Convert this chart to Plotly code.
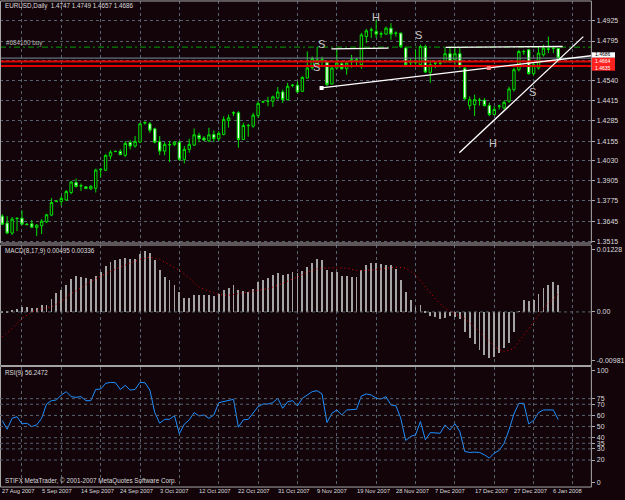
import plotly.graph_objects as go

# ---------------- data ----------------
bar_index = list(range(114))
open_ = [1.3678,1.3634,1.3570,1.3662,1.3665,1.3627,1.3629,1.3605,1.3617,1.3642,
         1.3685,1.3771,1.3772,1.3781,1.3829,1.3892,1.3871,1.3865,1.3852,1.3856,
         1.3974,1.3971,1.4061,1.4090,1.4091,1.4066,1.4148,1.4125,1.4150,1.4272,
         1.4267,1.4235,1.4153,1.4093,1.4132,1.4134,1.4150,1.4040,1.4104,1.4131,
         1.4193,1.4176,1.4159,1.4199,1.4172,1.4199,1.4288,1.4336,1.4337,1.4167,
         1.4255,1.4252,1.4320,1.4406,1.4410,1.4411,1.4432,1.4470,1.4421,1.4512,
         1.4513,1.4474,1.4559,1.4625,1.4650,1.4672,1.4661,1.4521,1.4623,1.4650,
         1.4618,1.4669,1.4672,1.4644,1.4823,1.4863,1.4856,1.4839,1.4839,1.4877,
         1.4844,1.4845,1.4750,1.4656,1.4656,1.4644,1.4760,1.4595,1.4653,1.4653,
         1.4665,1.4714,1.4675,1.4714,1.4622,1.4383,1.4389,1.4418,1.4417,1.4383,
         1.4326,1.4379,1.4368,1.4411,1.4485,1.4612,1.4726,1.4739,1.4587,1.4623,
         1.4707,1.4742,1.4748,1.4747]
high = [1.3691,1.3678,1.3672,1.3668,1.3716,1.3634,1.3653,1.3627,1.3659,1.3693,
        1.3793,1.3777,1.3807,1.3845,1.3903,1.3918,1.3886,1.3869,1.3875,1.3981,
        1.3985,1.4072,1.4098,1.4096,1.4104,1.4157,1.4163,1.4189,1.4273,1.4283,
        1.4278,1.4242,1.4189,1.4150,1.4157,1.4157,1.4157,1.4125,1.4172,1.4237,
        1.4210,1.4189,1.4242,1.4225,1.4220,1.4315,1.4326,1.4347,1.4347,1.4273,
        1.4267,1.4337,1.4411,1.4415,1.4439,1.4447,1.4502,1.4485,1.4528,1.4521,
        1.4538,1.4569,1.4728,1.4696,1.4758,1.4695,1.4669,1.4637,1.4739,1.4663,
        1.4663,1.4707,1.4688,1.4847,1.4872,1.4881,1.4930,1.4856,1.4887,1.4909,
        1.4856,1.4849,1.4760,1.4686,1.4739,1.4771,1.4771,1.4675,1.4664,1.4675,
        1.4750,1.4750,1.4760,1.4750,1.4633,1.4442,1.4453,1.4432,1.4432,1.4401,
        1.4379,1.4389,1.4415,1.4504,1.4625,1.4739,1.4739,1.4745,1.4655,1.4760,
        1.4771,1.4823,1.4760,1.4749]
low = [1.3621,1.3564,1.3558,1.3583,1.3621,1.3621,1.3602,1.3551,1.3564,1.3634,
       1.3678,1.3767,1.3744,1.3775,1.3818,1.3861,1.3839,1.3850,1.3845,1.3829,
       1.3926,1.3966,1.4040,1.4086,1.4068,1.4055,1.4104,1.4115,1.4146,1.4261,
       1.4210,1.4142,1.4068,1.4066,1.4023,1.4125,1.4030,1.4015,1.4083,1.4125,
       1.4150,1.4157,1.4150,1.4150,1.4157,1.4193,1.4242,1.4316,1.4115,1.4163,
       1.4185,1.4242,1.4305,1.4401,1.4379,1.4375,1.4421,1.4400,1.4417,1.4500,
       1.4464,1.4470,1.4555,1.4612,1.4631,1.4637,1.4506,1.4517,1.4618,1.4612,
       1.4580,1.4625,1.4637,1.4618,1.4783,1.4815,1.4815,1.4815,1.4834,1.4803,
       1.4823,1.4750,1.4633,1.4633,1.4644,1.4633,1.4591,1.4529,1.4622,1.4633,
       1.4654,1.4654,1.4644,1.4622,1.4421,1.4358,1.4316,1.4383,1.4377,1.4316,
       1.4322,1.4358,1.4358,1.4402,1.4472,1.4601,1.4707,1.4580,1.4574,1.4612,
       1.4696,1.4718,1.4718,1.4657]
close = [1.3627,1.3570,1.3659,1.3665,1.3627,1.3624,1.3608,1.3621,1.3646,1.3687,
         1.3765,1.3774,1.3791,1.3835,1.3896,1.3867,1.3872,1.3855,1.3869,1.3972,
         1.3977,1.4066,1.4087,1.4091,1.4070,1.4142,1.4125,1.4155,1.4267,1.4275,
         1.4226,1.4150,1.4093,1.4136,1.4134,1.4150,1.4040,1.4104,1.4136,1.4197,
         1.4172,1.4163,1.4197,1.4172,1.4206,1.4294,1.4305,1.4337,1.4167,1.4256,
         1.4256,1.4322,1.4396,1.4407,1.4411,1.4439,1.4470,1.4421,1.4506,1.4513,
         1.4470,1.4563,1.4623,1.4682,1.4675,1.4675,1.4517,1.4623,1.4655,1.4618,
         1.4655,1.4675,1.4675,1.4834,1.4860,1.4866,1.4839,1.4841,1.4877,1.4839,
         1.4845,1.4760,1.4644,1.4663,1.4659,1.4760,1.4597,1.4644,1.4654,1.4654,
         1.4714,1.4665,1.4714,1.4633,1.4426,1.4421,1.4421,1.4417,1.4383,1.4326,
         1.4358,1.4380,1.4404,1.4489,1.4612,1.4728,1.4728,1.4587,1.4644,1.4718,
         1.4750,1.4744,1.4749,1.4686]

macd_hist = [-0.00012,-0.00012,0.00031,0.00050,0.00093,0.00093,0.00074,0.00080,0.00124,0.00136,
             0.00248,0.00353,0.00415,0.00508,0.00607,0.00662,0.00650,0.00631,0.00607,0.00669,
             0.00743,0.00854,0.00929,0.00959,0.00978,0.01003,0.00990,0.00978,0.01083,0.01127,
             0.01102,0.00959,0.00774,0.00650,0.00588,0.00508,0.00371,0.00260,0.00260,0.00310,
             0.00322,0.00310,0.00322,0.00297,0.00340,0.00402,0.00446,0.00508,0.00402,0.00384,
             0.00371,0.00433,0.00557,0.00588,0.00631,0.00681,0.00724,0.00693,0.00712,0.00743,
             0.00724,0.00755,0.00836,0.00916,0.00978,0.00959,0.00774,0.00743,0.00743,0.00669,
             0.00669,0.00650,0.00650,0.00774,0.00879,0.00916,0.00916,0.00898,0.00879,0.00867,
             0.00805,0.00588,0.00371,0.00217,0.00093,0.00124,-0.00012,-0.00074,-0.00093,-0.00136,
             -0.00111,-0.00074,-0.00093,-0.00124,-0.00371,-0.00495,-0.00607,-0.00712,-0.00805,-0.00867,
             -0.00836,-0.00774,-0.00681,-0.00588,-0.00371,0.00005,0.00217,0.00204,0.00217,0.00340,
             0.00446,0.00495,0.00557,0.00495]
signal_bar = [0,2,4,6,8,10,12,14,16,18,20,22,24,26,28,30,32,34,36,38,40,42,44,46,48,50,
              52,54,56,58,60,62,64,66,68,70,72,74,76,78,80,82,84,86,88,90,92,94,96,98,
              100,102,104,106,108,110,112,113]
signal = [-0.00464,-0.00310,-0.00124,0.00000,0.00062,0.00093,0.00198,0.00340,0.00446,0.00569,
          0.00669,0.00755,0.00836,0.00910,0.00978,0.01021,0.00978,0.00879,0.00774,0.00631,
          0.00464,0.00384,0.00322,0.00310,0.00340,0.00384,0.00402,0.00433,0.00495,0.00569,
          0.00650,0.00743,0.00805,0.00823,0.00823,0.00817,0.00774,0.00774,0.00792,0.00817,
          0.00836,0.00817,0.00693,0.00464,0.00248,0.00062,-0.00031,-0.00124,-0.00279,-0.00464,
          -0.00650,-0.00743,-0.00681,-0.00433,-0.00186,0.00062,0.00248,0.00336]
rsi = [55.4,47.6,57.4,58.9,52.4,53.0,50.0,51.5,57.4,70.2,
       73.2,73.8,78.3,81.3,76.8,76.2,76.8,73.2,73.2,83.3,
       83.6,88.7,89.6,89.3,83.3,86.9,82.7,83.3,89.6,89.3,
       82.7,62.5,53.0,56.5,56.5,59.8,43.5,52.1,56.0,62.5,
       59.5,60.4,57.4,60.4,71.4,72.3,73.8,74.4,49.4,56.0,
       56.5,61.9,67.9,70.2,70.2,71.4,75.3,66.4,72.3,73.2,
       68.5,75.3,78.3,81.3,82.1,79.2,53.6,61.9,64.9,60.4,
       64.9,64.9,65.5,77.4,79.2,78.3,75.3,74.7,76.8,69.3,
       68.8,57.4,37.5,41.1,42.6,54.5,38.1,44.6,44.6,44.0,
       51.5,47.0,52.4,45.5,27.7,26.8,27.1,26.8,24.7,21.7,
       26.2,28.6,35.1,47.0,61.3,70.8,70.8,52.4,55.4,62.5,
       64.9,64.9,64.9,56.25]

date_bars = [0,8,16,24,32,40,48,56,64,72,80,88,96,104,112]
date_labels = ["27 Aug 2007","5 Sep 2007","14 Sep 2007","24 Sep 2007","3 Oct 2007",
               "12 Oct 2007","22 Oct 2007","31 Oct 2007","9 Nov 2007","19 Nov 2007",
               "28 Nov 2007","7 Dec 2007","17 Dec 2007","27 Dec 2007","6 Jan 2008"]
price_ticks = [1.4925,1.4795,1.4670,1.4540,1.4415,1.4285,1.4155,1.4030,1.3905,1.3775,1.3645,1.3515]
price_tick_text = ["1.4925","1.4795","","1.4540","1.4415","1.4285","1.4155","1.4030",
                   "1.3905","1.3775","1.3645","1.3515"]   # 1.4670 is hidden under the price tags
rsi_ticks = [100,75,70,60,50,40,35,30,20,0]
rsi_levels = [75,70,60,50,40,35,30,20]

buy_price = 1.4756
bid_price = 1.4686
red_levels = [1.4665, 1.4636]

# trend lines (bar index, price)
neck_x = [64.9, 98.9, 119.7]
neck_y = [1.4496, 1.4623, 1.4701]
top_a_x = [66.9, 78.5]
top_a_y = [1.4745, 1.4750]
top_b_x = [90.1, 113.9]
top_b_y = [1.4754, 1.4760]
rise_x = [92.9, 118.1]
rise_y = [1.4083, 1.4823]

pattern_labels = [("H", 75.9, 1.4949), ("S", 64.9, 1.4777), ("S", 63.9, 1.4627),
                  ("S", 84.7, 1.4834), ("S", 107.7, 1.4472), ("H", 99.7, 1.4142)]

# ---------------- styling ----------------
W, H = 625, 500
BG = "#13040a"
GRID = "#56636e"
FRAME = "#a8a8a8"
TXT = "#dcdcdc"
FONT = "Liberation Sans"
XR = [-0.46, 119.74]
XD = [0, 601 / W]

def py(p):
    return 1 - p / H

fig = go.Figure()

fig.add_trace(go.Candlestick(
    x=bar_index, open=open_, high=high, low=low, close=close,
    increasing=dict(line=dict(color="#00e000", width=1), fillcolor=BG),
    decreasing=dict(line=dict(color="#00e000", width=1), fillcolor="#ffffff"),
    whiskerwidth=0, xaxis="x", yaxis="y", showlegend=False, hoverinfo="skip"))

# horizontal level lines
fig.add_trace(go.Scatter(x=XR, y=[buy_price] * 2, mode="lines",
                         line=dict(color="#00a000", width=1, dash="6px,3px,2px,3px"),
                         xaxis="x", yaxis="y", showlegend=False, hoverinfo="skip"))
fig.add_trace(go.Scatter(x=XR, y=[bid_price] * 2, mode="lines",
                         line=dict(color="#7c8e9e", width=1),
                         xaxis="x", yaxis="y", showlegend=False, hoverinfo="skip"))
for lv in red_levels:
    fig.add_trace(go.Scatter(x=XR, y=[lv] * 2, mode="lines",
                             line=dict(color="#e00000", width=2),
                             xaxis="x", yaxis="y", showlegend=False, hoverinfo="skip"))

# trend lines
for xs, ys in [(neck_x, neck_y), (top_a_x, top_a_y), (top_b_x, top_b_y), (rise_x, rise_y)]:
    fig.add_trace(go.Scatter(x=xs, y=ys, mode="lines", line=dict(color="#ffffff", width=1.3),
                             xaxis="x", yaxis="y", showlegend=False, hoverinfo="skip"))
fig.add_trace(go.Scatter(x=[neck_x[0]], y=[neck_y[0]], mode="markers",
                         marker=dict(symbol="square", size=4, color="#ffffff"),
                         xaxis="x", yaxis="y", showlegend=False, hoverinfo="skip"))
fig.add_trace(go.Scatter(x=[neck_x[1]], y=[neck_y[1]], mode="markers",
                         marker=dict(symbol="square", size=4, color="#ff8080"),
                         xaxis="x", yaxis="y", showlegend=False, hoverinfo="skip"))

# MACD
fig.add_trace(go.Bar(x=bar_index, y=macd_hist, width=0.18, marker=dict(color="#a4a4a4", line=dict(width=0)),
                     xaxis="x2", yaxis="y2", showlegend=False, hoverinfo="skip"))
fig.add_trace(go.Scatter(x=signal_bar, y=signal, mode="lines",
                         line=dict(color="#e00000", width=1, dash="1px,3px"),
                         xaxis="x2", yaxis="y2", showlegend=False, hoverinfo="skip"))

# RSI
fig.add_trace(go.Scatter(x=bar_index, y=rsi, mode="lines", line=dict(color="#1e90ff", width=1),
                         xaxis="x3", yaxis="y3", showlegend=False, hoverinfo="skip"))

grid_ticks = list(range(4, 120, 8))
xcommon = dict(range=XR, domain=XD, showticklabels=False, tickvals=grid_ticks,
               showgrid=True, gridcolor=GRID, griddash="dot", gridwidth=1,
               zeroline=False, showline=False, ticks="", fixedrange=True)
ycommon = dict(side="right", showline=False, zeroline=False, ticks="outside", ticklen=3,
               tickcolor=FRAME, tickfont=dict(family=FONT, size=7, color=TXT), fixedrange=True)

fig.update_layout(
    width=W, height=H, margin=dict(l=0, r=0, t=0, b=0),
    paper_bgcolor=BG, plot_bgcolor=BG, bargap=0, showlegend=False,
    xaxis=dict(anchor="y", rangeslider=dict(visible=False), **xcommon),
    xaxis2=dict(anchor="y2", matches="x", **xcommon),
    xaxis3=dict(anchor="y3", matches="x", **xcommon),
    yaxis=dict(domain=[0.512, 0.998], range=[1.35068, 1.50501], anchor="x",
               tickvals=price_ticks, ticktext=price_tick_text,
               showgrid=True, gridcolor=GRID, griddash="dot", **ycommon),
    yaxis2=dict(domain=[0.266, 0.508], range=[-0.00999, 0.01247], anchor="x2",
                tickvals=[0.0117, 0.0, -0.0090], ticktext=["0.01228", "0.00", "-0.00981"],
                showgrid=False, **ycommon),
    yaxis3=dict(domain=[0.022, 0.264], range=[-4.2, 103.8], anchor="x3",
                tickvals=rsi_ticks, ticktext=[str(v) for v in rsi_ticks],
                showgrid=False, **ycommon),
)

shapes = []
# panel frames
for top, bot in [(1, 244), (246, 367), (368, 489)]:
    shapes.append(dict(type="rect", xref="paper", yref="paper", x0=0.5 / W, x1=601 / W,
                       y0=py(bot), y1=py(top), line=dict(color=FRAME, width=1), layer="above"))
shapes.append(dict(type="line", xref="paper", yref="y2", x0=0, x1=601 / W, y0=0, y1=0,
                   line=dict(color=GRID, width=1, dash="dot")))
for lv in rsi_levels:
    shapes.append(dict(type="line", xref="paper", yref="y3", x0=0, x1=601 / W, y0=lv, y1=lv,
                       line=dict(color=GRID, width=1, dash="dot")))
# price tag boxes at right edge
shapes.append(dict(type="rect", xref="paper", yref="paper", x0=601.5 / W, x1=1,
                   y0=py(58), y1=py(52.5), fillcolor="#ffffff", line=dict(width=0)))
shapes.append(dict(type="rect", xref="paper", yref="paper", x0=601.5 / W, x1=1,
                   y0=py(71), y1=py(58), fillcolor="#ff2020", line=dict(width=0)))
fig.update_layout(shapes=shapes)

ann = []
def label(text, x, y, size=6.3, color=TXT, **kw):
    ann.append(dict(text=text, x=x / W, y=py(y), xref="paper", yref="paper", showarrow=False,
                    xanchor="left", yanchor="middle", font=dict(family=FONT, size=size, color=color), **kw))

label("EURUSD,Daily  1.4747 1.4749 1.4657 1.4686", 3, 6)
label("#684100 buy", 4, 43, color="#b8b8b8")
label("MACD(8,17,9) 0.00495 0.00336", 3, 252)
label("RSI(9) 56.2472", 3, 374)
label("STIFX MetaTrader, © 2001-2007 MetaQuotes Software Corp.", 3, 483)

for t, bx, p in pattern_labels:
    ann.append(dict(text=t, x=bx, y=p, xref="x", yref="y", showarrow=False,
                    font=dict(family=FONT, size=11, color="#c8c8c8")))

for b, t in zip(date_bars, date_labels):
    ann.append(dict(text=t, x=b, y=py(493), xref="x", yref="paper", showarrow=False,
                    xanchor="left", yanchor="middle", xshift=-2,
                    font=dict(family=FONT, size=5.8, color=TXT)))

# price tags at right
label("1.4686", 603, 54.6, size=5, color="#000000")
label("1.4664<br>1.4635", 603, 65.0, size=5, color="#ffffff")
fig.update_layout(annotations=ann)

fig.write_html("out.html")
